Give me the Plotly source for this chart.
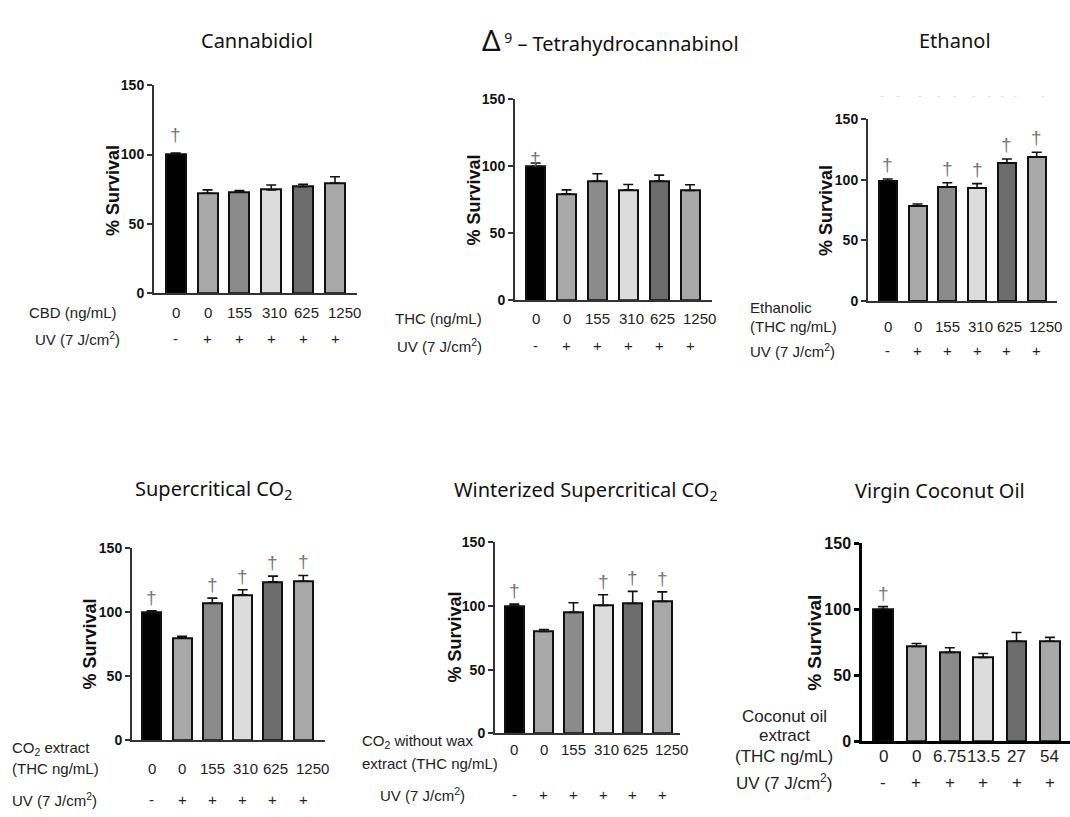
import plotly.graph_objects as go

W, H = 1070, 817

# ---------------- data ----------------
titles = ["Cannabidiol",
          "<span style='font-size:29px'>Δ</span><sup> 9</sup> – Tetrahydrocannabinol",
          "Ethanol",
          "Supercritical CO<sub>2</sub>",
          "Winterized Supercritical CO<sub>2</sub>",
          "Virgin Coconut Oil"]

conc_cbd = ["0", "0", "155", "310", "625", "1250"]
conc_thc = ["0", "0", "155", "310", "625", "1250"]
conc_eth = ["0", "0", "155", "310", "625", "1250"]
conc_co2 = ["0", "0", "155", "310", "625", "1250"]
conc_wco2 = ["0", "0", "155", "310", "625", "1250"]
conc_vco = ["0", "0", "6.75", "13.5", "27", "54"]
uv_labels = ["-", "+", "+", "+", "+", "+"]

mean_cbd = [100, 72, 73, 74.5, 76.7, 79.5]
err_cbd = [1, 2.5, 1, 3.5, 1.8, 4.5]
mean_thc = [100, 79.5, 89, 82.5, 89, 82]
err_thc = [2.5, 3, 5.5, 4, 4.5, 4.3]
mean_eth = [99, 78.5, 94, 93.2, 113.7, 118.8]
err_eth = [1.5, 1.5, 3.5, 3.5, 3.3, 3.8]
mean_co2 = [100, 80, 107, 113.5, 123.7, 124.2]
err_co2 = [1, 1.2, 4, 4, 4.5, 4.5]
mean_wco2 = [100, 80, 95, 100.5, 102, 103.6]
err_wco2 = [1.5, 1.5, 7.5, 8.3, 9.5, 7.5]
mean_vco = [100, 71.8, 67.3, 63.4, 75.7, 75.7]
err_vco = [2, 2.2, 3.5, 3, 6.7, 3]

dag_cbd = [1, 0, 0, 0, 0, 0]
dag_thc = [1, 0, 0, 0, 0, 0]
dag_eth = [1, 0, 1, 1, 1, 1]
dag_co2 = [1, 0, 1, 1, 1, 1]
dag_wco2 = [1, 0, 0, 1, 1, 1]
dag_vco = [1, 0, 0, 0, 0, 0]

y_ticks = [0, 50, 100, 150]
bar_colors = ["#000000", "#a8a8a8", "#8a8a8a", "#dcdcdc", "#6c6c6c", "#a8a8a8"]

# ---------------- layout geometry (pixels) ----------------
geo = [
    dict(axL=154, axR=357, c0=175.7, c5=335, yB=291, yT=79, bw=20),
    dict(axL=515, axR=712, c0=535.7, c5=690, yB=298.7, yT=93.3, bw=19),
    dict(axL=868, axR=1057, c0=887.7, c5=1036.7, yB=299.3, yT=113.3, bw=18),
    dict(axL=132, axR=325, c0=151.7, c5=303.3, yB=747.7, yT=551.7, bw=19),
    dict(axL=495, axR=680, c0=514.3, c5=662.3, yB=740.7, yT=545.7, bw=19),
    dict(axL=862, axR=1072, c0=883.3, c5=1051.7, yB=748.7, yT=546.7, bw=20),
]
dagger_shift = [6, -8, 2, 1, 1, 1]

panels = [
    (mean_cbd, err_cbd, dag_cbd, conc_cbd),
    (mean_thc, err_thc, dag_thc, conc_thc),
    (mean_eth, err_eth, dag_eth, conc_eth),
    (mean_co2, err_co2, dag_co2, conc_co2),
    (mean_wco2, err_wco2, dag_wco2, conc_wco2),
    (mean_vco, err_vco, dag_vco, conc_vco),
]


def px(x):
    return x / W


def py(y):
    return 1 - y / H


fig = go.Figure()
annotations = []
layout = {}

AXFONT = "Liberation Sans, Arial, sans-serif"
TFONT = "Noto Sans, DejaVu Sans, sans-serif"

for i, ((means, errs, dags, concs), g) in enumerate(zip(panels, geo)):
    k = i + 1
    xa = "x" if k == 1 else f"x{k}"
    ya = "y" if k == 1 else f"y{k}"
    u = (g["c5"] - g["c0"]) / 5.0
    xr = [(g["axL"] - g["c0"]) / u, (g["axR"] - g["c0"]) / u]
    last = (k == 6)
    lc = "#000000" if last else "#333333"
    lw = 2.5 if last else 2
    tsize = 16 if last else 14
    rsize = 17 if last else 15

    fig.add_trace(go.Bar(
        x=list(range(len(means))), y=means,
        width=g["bw"] / u,
        marker=dict(color=bar_colors, line=dict(color="#111111", width=2)),
        error_y=dict(type="data", symmetric=False, array=errs,
                     arrayminus=[0] * len(errs), color="#111111",
                     thickness=1.6, width=5),
        xaxis=xa, yaxis=ya, showlegend=False, hoverinfo="skip"))

    layout[f"xaxis{'' if k == 1 else k}"] = dict(
        domain=[px(g["axL"]), min(1, px(g["axR"]))], range=xr, anchor=ya,
        showline=True, linecolor=lc, linewidth=lw, showgrid=False,
        zeroline=False, showticklabels=False, ticks="", fixedrange=True)
    layout[f"yaxis{'' if k == 1 else k}"] = dict(
        domain=[py(g["yB"]), py(g["yT"])], range=[0, 150], anchor=xa,
        tickvals=y_ticks, ticks="outside", ticklen=5, tickwidth=lw,
        tickcolor=lc, showline=True, linecolor=lc, linewidth=lw,
        showgrid=False, zeroline=False,
        tickfont=dict(family=AXFONT, size=tsize, color="#111111", weight="bold"),
        fixedrange=True)

    # daggers
    for j, (m, e, d) in enumerate(zip(means, errs, dags)):
        if d:
            annotations.append(dict(
                x=j, y=m + e, xref=xa, yref=ya, text="†", showarrow=False,
                yanchor="bottom", yshift=dagger_shift[i],
                font=dict(family=AXFONT, size=19, color="#777777")))

    # y title
    ytx = [113, 474, 826.7, 90, 455, 815][i]
    yty = [187, 196.7, 206.7, 650, 643, 648.3][i]
    annotations.append(dict(
        x=px(ytx), y=py(yty), xref="paper", yref="paper", text="<b>% Survival</b>",
        textangle=-90, showarrow=False, xanchor="center", yanchor="middle",
        font=dict(family=AXFONT, size=19 if last else 18, color="#111111")))

    # concentration row and UV row
    conc_y = [310.7, 316.7, 325, 776.7, 757.3, 764][i]
    uv_y = [338, 344.3, 350, 808, 803.3, 790.7][i]
    for j, (c, uvl) in enumerate(zip(concs, uv_labels)):
        shift = 9 if (j == len(concs) - 1 and not last) else (3 if not last and j >= 3 else 0)
        annotations.append(dict(
            x=j, y=py(conc_y), xref=xa, yref="paper", text=c, showarrow=False,
            xanchor="center", yanchor="middle", xshift=shift,
            font=dict(family=AXFONT, size=rsize, color="#222222")))
        annotations.append(dict(
            x=j, y=py(uv_y), xref=xa, yref="paper", text=uvl, showarrow=False,
            xanchor="center", yanchor="middle",
            font=dict(family=AXFONT, size=rsize, color="#222222")))

# left row labels (text, x px, y px, anchor)
row_labels = [
    ("CBD (ng/mL)", 27, 310.7, "left"),
    ("UV (7 J/cm<sup>2</sup>)", 33, 338, "left"),
    ("THC (ng/mL)", 393, 316.7, "left"),
    ("UV (7 J/cm<sup>2</sup>)", 395, 344.3, "left"),
    ("Ethanolic", 748, 305.7, "left"),
    ("(THC ng/mL)", 748, 325, "left"),
    ("UV (7 J/cm<sup>2</sup>)", 748, 350, "left"),
    ("CO<sub>2</sub> extract", 10, 756.7, "left"),
    ("(THC ng/mL)", 10, 776.7, "left"),
    ("UV (7 J/cm<sup>2</sup>)", 10, 808, "left"),
    ("CO<sub>2</sub> without wax", 360, 749.3, "left"),
    ("extract (THC ng/mL)", 360, 771.7, "left"),
    ("UV (7 J/cm<sup>2</sup>)", 378, 803.3, "left"),
    ("Coconut oil", 784, 724, "center"),
    ("extract", 784, 743.3, "center"),
    ("(THC ng/mL)", 784, 764, "center"),
    ("UV (7 J/cm<sup>2</sup>)", 784, 790.7, "center"),
]
for idx, (t, x, y, anc) in enumerate(row_labels):
    big = idx >= 13
    annotations.append(dict(
        x=px(x), y=py(y), xref="paper", yref="paper", text=t, showarrow=False,
        xanchor=anc, yanchor="middle", align=anc,
        font=dict(family=AXFONT, size=17 if big else 15, color="#222222")))

# panel titles
title_pos = [(257, 33), (610, 32), (955, 33), (213, 492), (585, 493), (940, 493)]
for t, (x, y) in zip(titles, title_pos):
    annotations.append(dict(
        x=px(x), y=py(y), xref="paper", yref="paper", text=t, showarrow=False,
        xanchor="center", yanchor="middle",
        font=dict(family=TFONT, size=20, color="#111111")))

# faint dashes above Ethanol panel
annotations.append(dict(
    x=px(962), y=py(89), xref="paper", yref="paper",
    text="-    -      -     -    -     -    -   -   -        -", showarrow=False,
    xanchor="center", yanchor="middle",
    font=dict(family=AXFONT, size=11, color="#dddddd")))

fig.update_layout(
    width=W, height=H, margin=dict(l=0, r=0, t=0, b=0),
    paper_bgcolor="white", plot_bgcolor="white",
    annotations=annotations, bargap=0, **layout)

fig.write_html("out.html")
